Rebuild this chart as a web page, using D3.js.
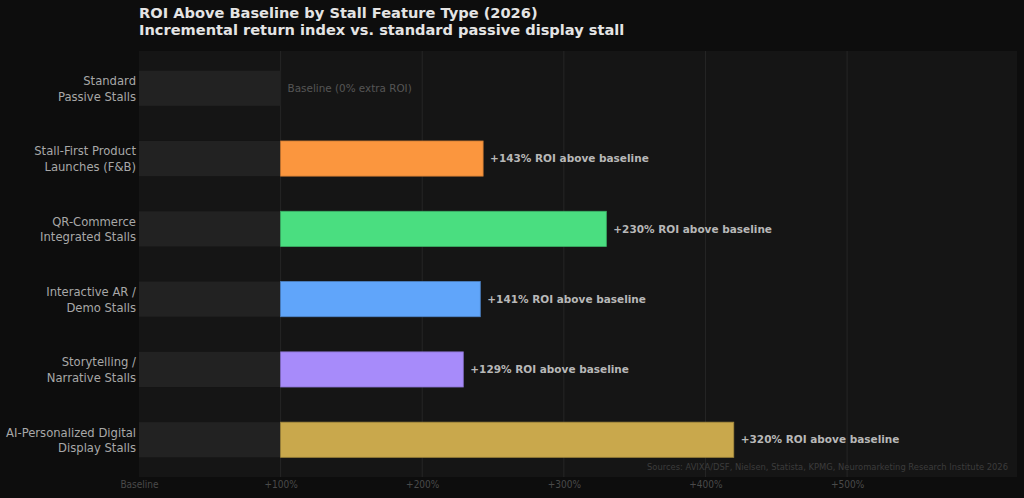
<!DOCTYPE html>
<html>
<head>
<meta charset="utf-8">
<script src="https://cdn.jsdelivr.net/npm/d3@7"></script>
<style>
  body { margin: 0; background: #0d0d0d; }
  svg { display: block; }
  .title { font-family: "DejaVu Sans", sans-serif; font-weight: bold; font-size: 14.6px; fill: #e4e4e4; }
  .cat { font-family: "DejaVu Sans", sans-serif; font-size: 11.6px; fill: #a8a8a8; }
  .val { font-family: "DejaVu Sans", sans-serif; font-weight: bold; font-size: 10.5px; fill: #b8b8b8; }
  .tick text { font-family: "DejaVu Sans Condensed", "DejaVu Sans", sans-serif; font-stretch: condensed; font-size: 10px; fill: #4a4a4a; }
  .src { font-family: "DejaVu Sans Condensed", "DejaVu Sans", sans-serif; font-stretch: condensed; font-size: 9.3px; fill: #3c3c3c; }
</style>
</head>
<body>
<svg width="1024" height="498"></svg>
<script>
//data
const categories = [
  ['Standard', 'Passive Stalls'],
  ['Stall-First Product', 'Launches (F&B)'],
  ['QR-Commerce', 'Integrated Stalls'],
  ['Interactive AR /', 'Demo Stalls'],
  ['Storytelling /', 'Narrative Stalls'],
  ['AI-Personalized Digital', 'Display Stalls']
];
const roi = [0, 143, 230, 141, 129, 320];
const colors = ['#222222', '#fb963e', '#4ade80', '#60a5fa', '#a78bfa', '#c9a84c'];
const ticks = [0, 100, 200, 300, 400, 500];
const tickLabels = ['Baseline', '+100%', '+200%', '+300%', '+400%', '+500%'];

const svg = d3.select('svg');
const margin = {top: 51, right: 7, bottom: 21, left: 139};
const width = +svg.attr('width');
const height = +svg.attr('height');
const innerWidth = width - margin.left - margin.right;
const innerHeight = height - margin.top - margin.bottom;

//titles
svg.append('text').attr('class', 'title').attr('x', margin.left).attr('y', 18)
  .text('ROI Above Baseline by Stall Feature Type (2026)');
svg.append('text').attr('class', 'title').attr('x', margin.left).attr('y', 35)
  .text('Incremental return index vs. standard passive display stall');

const g = svg.append('g').attr('transform', `translate(${margin.left}, ${margin.top})`);

//plot background
g.append('rect').attr('width', innerWidth).attr('height', innerHeight).attr('fill', '#151515');

const xScale = d3.scaleLinear().domain([0, 620]).range([0, innerWidth]);
const yScale = d3.scaleBand()
  .domain(d3.range(categories.length))
  .range([0, innerHeight])
  .paddingInner(0.5)
  .paddingOuter(0.28);

//gridlines
g.selectAll('.grid').data(ticks.slice(1)).enter().append('line')
  .attr('x1', d => xScale(d)).attr('x2', d => xScale(d))
  .attr('y1', 0).attr('y2', innerHeight)
  .attr('stroke', '#262626').attr('stroke-width', 1);

//x axis
const xAxis = g.append('g').attr('transform', `translate(0, ${innerHeight})`)
  .call(d3.axisBottom(xScale).tickValues(ticks).tickFormat((d, i) => tickLabels[i]).tickSize(0).tickPadding(4));
xAxis.select('.domain').remove();

//baseline gray bars
g.selectAll('.base').data(roi).enter().append('rect')
  .attr('x', xScale(0))
  .attr('y', (d, i) => yScale(i))
  .attr('width', xScale(100) - xScale(0))
  .attr('height', yScale.bandwidth())
  .attr('fill', '#222222');

//roi bars
const rows = roi.map((v, i) => ({v, i})).filter(d => d.v > 0);
g.selectAll('.bar').data(rows).enter().append('rect')
  .attr('x', xScale(100))
  .attr('y', d => yScale(d.i))
  .attr('width', d => xScale(100 + d.v) - xScale(100))
  .attr('height', yScale.bandwidth())
  .attr('fill', d => colors[d.i])
  .attr('stroke', d => d3.color(colors[d.i]).darker(0.6))
  .attr('stroke-width', 0.8);

//value labels
g.selectAll('.val').data(rows).enter().append('text')
  .attr('class', 'val')
  .attr('x', d => xScale(100 + d.v) + 7)
  .attr('y', d => yScale(d.i) + yScale.bandwidth() / 2)
  .attr('dy', '0.35em')
  .text(d => `+${d.v}% ROI above baseline`);

g.append('text')
  .attr('x', xScale(100) + 7)
  .attr('y', yScale(0) + yScale.bandwidth() / 2)
  .attr('dy', '0.35em')
  .attr('font-family', 'DejaVu Sans, sans-serif')
  .attr('font-size', '10.4px')
  .attr('fill', '#555')
  .text('Baseline (0% extra ROI)');

//category labels
categories.forEach((lines, i) => {
  const t = g.append('text').attr('class', 'cat').attr('text-anchor', 'end')
    .attr('x', -3).attr('y', yScale(i) + yScale.bandwidth() / 2);
  lines.forEach((l, j) => {
    t.append('tspan').attr('x', -3).attr('dy', j === 0 ? '-0.27em' : '1.35em').text(l);
  });
});

//source
g.append('text').attr('class', 'src').attr('text-anchor', 'end')
  .attr('x', innerWidth - 9).attr('y', innerHeight - 7)
  .text('Sources: AVIXA/DSF, Nielsen, Statista, KPMG, Neuromarketing Research Institute 2026');
</script>
</body>
</html>
